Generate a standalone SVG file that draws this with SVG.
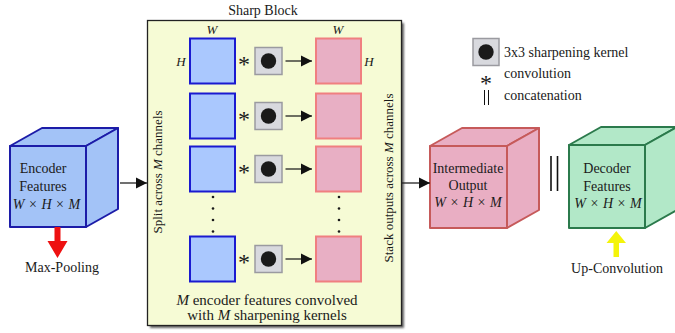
<svg xmlns="http://www.w3.org/2000/svg" width="675" height="333" viewBox="0 0 675 333" font-family="'Liberation Serif', 'DejaVu Serif', 'Times New Roman', serif">
<defs>
<marker id="ah" markerUnits="userSpaceOnUse" markerWidth="12" markerHeight="12" viewBox="0 0 12 12" refX="11" refY="6" orient="auto">
<path d="M0,0.5 L11,6 L0,11.5 Z" fill="#111"/>
</marker>
<filter id="sh" x="-5%" y="-5%" width="115%" height="115%"><feGaussianBlur stdDeviation="1.2"/></filter>
</defs>
<style>
text{font-family:'Liberation Serif','DejaVu Serif','Times New Roman',serif;fill:#1a1a1a}
.t15{font-size:15px}
.t14{font-size:14px}
.t13{font-size:13px}
.it{font-style:italic}
.blue{fill:#aac8fe;stroke:#1a1ad0;stroke-width:2}
.pink{fill:#e8afc4;stroke:#f07f80;stroke-width:2}
.kb{fill:#d8d9de;stroke:#9a9aa0;stroke-width:1.5}
.kc{fill:#1a1a1a}
.ln{stroke:#222;stroke-width:1.3;fill:none}
.enc{fill:#a3c3f7;stroke:#1c1ca8;stroke-width:2;stroke-linejoin:round}
.mid{fill:#e9aec3;stroke:#c65a5a;stroke-width:2;stroke-linejoin:round}
.dec{fill:#b2e8c8;stroke:#2b7a4c;stroke-width:2;stroke-linejoin:round}
.ast{font-size:24px}
</style>

<g id="encoder">
<rect x="10" y="146" width="76" height="81" class="enc"/>
<path d="M10,146 L42,128 L118,128 L86,146 Z" class="enc"/>
<path d="M86,146 L118,128 L118,209 L86,227 Z" class="enc"/>
<text x="43" y="173" text-anchor="middle" class="t14">Encoder</text>
<text x="43" y="191" text-anchor="middle" class="t14">Features</text>
<text x="46.5" y="209" text-anchor="middle" class="t14"><tspan class="it">W</tspan> <tspan dx="1">×</tspan> <tspan class="it" dx="1">H</tspan> <tspan dx="1">×</tspan> <tspan class="it" dx="1">M</tspan></text>
</g>

<g id="maxpool">
<path d="M54.5,227 L60.5,227 L60.5,241 L67.5,241 L57.5,258 L47.5,241 L54.5,241 Z" fill="#ee1111"/>
<text x="62" y="272" text-anchor="middle" class="t14">Max-Pooling</text>
</g>

<g id="sharp-block">
<rect x="150" y="23" width="254" height="305" fill="#333" opacity="0.75" filter="url(#sh)"/>
<rect x="147.5" y="20.5" width="254" height="305" fill="#f6fbd5" stroke="#222" stroke-width="1.3"/>
<text x="263" y="15" text-anchor="middle" class="t14">Sharp Block</text>
<text x="212" y="34" text-anchor="middle" class="t13 it">W</text>
<text x="181" y="66" text-anchor="middle" class="t13 it">H</text>
<text x="338" y="34" text-anchor="middle" class="t13 it">W</text>
<text x="369" y="66" text-anchor="middle" class="t13 it">H</text>
<text transform="translate(162,172) rotate(-90)" text-anchor="middle" class="t13">Split across <tspan class="it">M</tspan> channels</text>
<text transform="translate(393,178) rotate(-90)" text-anchor="middle" class="t13">Stack outputs across <tspan class="it">M</tspan> channels</text>
<text x="267" y="305" text-anchor="middle" class="t15"><tspan class="it">M</tspan> encoder features convolved</text>
<text x="267" y="320" text-anchor="middle" class="t15">with <tspan class="it">M</tspan> sharpening kernels</text>
</g>

<g id="row1">
<rect x="190" y="38.5" width="45" height="45" class="blue"/>
<text x="244" y="72" text-anchor="middle" class="ast">*</text>
<rect x="255" y="47.5" width="27" height="27" class="kb"/>
<circle cx="268.5" cy="61" r="7.7" class="kc"/>
<rect x="316" y="38.5" width="45" height="45" class="pink"/>
</g>
<g id="row2">
<rect x="190" y="93.5" width="45" height="45" class="blue"/>
<text x="244" y="127" text-anchor="middle" class="ast">*</text>
<rect x="255" y="102.5" width="27" height="27" class="kb"/>
<circle cx="268.5" cy="116" r="7.7" class="kc"/>
<rect x="316" y="93.5" width="45" height="45" class="pink"/>
</g>
<g id="row3">
<rect x="190" y="146.5" width="45" height="45" class="blue"/>
<text x="244" y="180" text-anchor="middle" class="ast">*</text>
<rect x="255" y="155.5" width="27" height="27" class="kb"/>
<circle cx="268.5" cy="169" r="7.7" class="kc"/>
<rect x="316" y="146.5" width="45" height="45" class="pink"/>
</g>
<g id="dots">
<circle cx="213" cy="197" r="1.3" class="kc"/>
<circle cx="213" cy="208.5" r="1.3" class="kc"/>
<circle cx="213" cy="220" r="1.3" class="kc"/>
<circle cx="213" cy="231.5" r="1.3" class="kc"/>
<circle cx="339" cy="197" r="1.3" class="kc"/>
<circle cx="339" cy="208.5" r="1.3" class="kc"/>
<circle cx="339" cy="220" r="1.3" class="kc"/>
<circle cx="339" cy="231.5" r="1.3" class="kc"/>
</g>
<g id="row4">
<rect x="190" y="236.5" width="45" height="45" class="blue"/>
<text x="244" y="270" text-anchor="middle" class="ast">*</text>
<rect x="255" y="245.5" width="27" height="27" class="kb"/>
<circle cx="268.5" cy="259" r="7.7" class="kc"/>
<rect x="316" y="236.5" width="45" height="45" class="pink"/>
</g>

<g id="intermediate">
<rect x="430" y="146" width="77" height="82" class="mid"/>
<path d="M430,146 L462,128 L539,128 L507,146 Z" class="mid"/>
<path d="M507,146 L539,128 L539,210 L507,228 Z" class="mid"/>
<text x="468" y="173" text-anchor="middle" class="t14">Intermediate</text>
<text x="468" y="190" text-anchor="middle" class="t14">Output</text>
<text x="468" y="207" text-anchor="middle" class="t14"><tspan class="it">W</tspan> <tspan dx="1">×</tspan> <tspan class="it" dx="1">H</tspan> <tspan dx="1">×</tspan> <tspan class="it" dx="1">M</tspan></text>
</g>

<g id="concat">
<line x1="551" y1="156" x2="551" y2="191" stroke="#111" stroke-width="1.6"/>
<line x1="557.5" y1="156" x2="557.5" y2="191" stroke="#111" stroke-width="1.6"/>
</g>

<g id="decoder">
<rect x="569" y="145" width="76" height="83" class="dec"/>
<path d="M569,145 L601,127 L677,127 L645,145 Z" class="dec"/>
<path d="M645,145 L677,127 L677,210 L645,228 Z" class="dec"/>
<text x="607" y="173" text-anchor="middle" class="t14">Decoder</text>
<text x="607" y="191" text-anchor="middle" class="t14">Features</text>
<text x="608" y="208" text-anchor="middle" class="t14"><tspan class="it">W</tspan> <tspan dx="1">×</tspan> <tspan class="it" dx="1">H</tspan> <tspan dx="1">×</tspan> <tspan class="it" dx="1">M</tspan></text>
</g>

<g id="upconv">
<path d="M613.5,257 L619,257 L619,243 L626,243 L616.25,231 L606.5,243 L613.5,243 Z" fill="#f4f40a"/>
<text x="617" y="273" text-anchor="middle" class="t14">Up-Convolution</text>
</g>

<g id="legend">
<rect x="473" y="38.5" width="26" height="27" class="kb"/>
<circle cx="486" cy="52" r="7.7" class="kc"/>
<text x="504" y="57" class="t14">3x3 sharpening kernel</text>
<text x="486" y="91" text-anchor="middle" class="ast">*</text>
<text x="504" y="78" class="t14">convolution</text>
<line x1="484.5" y1="90" x2="484.5" y2="105" stroke="#111" stroke-width="1"/>
<line x1="488.5" y1="90" x2="488.5" y2="105" stroke="#111" stroke-width="1"/>
<text x="504" y="100" class="t14">concatenation</text>
</g>

<g id="connectors">
<line x1="120" y1="183" x2="147" y2="183" class="ln" marker-end="url(#ah)"/>
<line x1="402" y1="183" x2="430" y2="183" class="ln" marker-end="url(#ah)"/>
<line x1="285.5" y1="61" x2="312" y2="61" class="ln" marker-end="url(#ah)"/>
<line x1="285.5" y1="116" x2="312" y2="116" class="ln" marker-end="url(#ah)"/>
<line x1="285.5" y1="169" x2="312" y2="169" class="ln" marker-end="url(#ah)"/>
<line x1="285.5" y1="259" x2="312" y2="259" class="ln" marker-end="url(#ah)"/>
</g>
</svg>
